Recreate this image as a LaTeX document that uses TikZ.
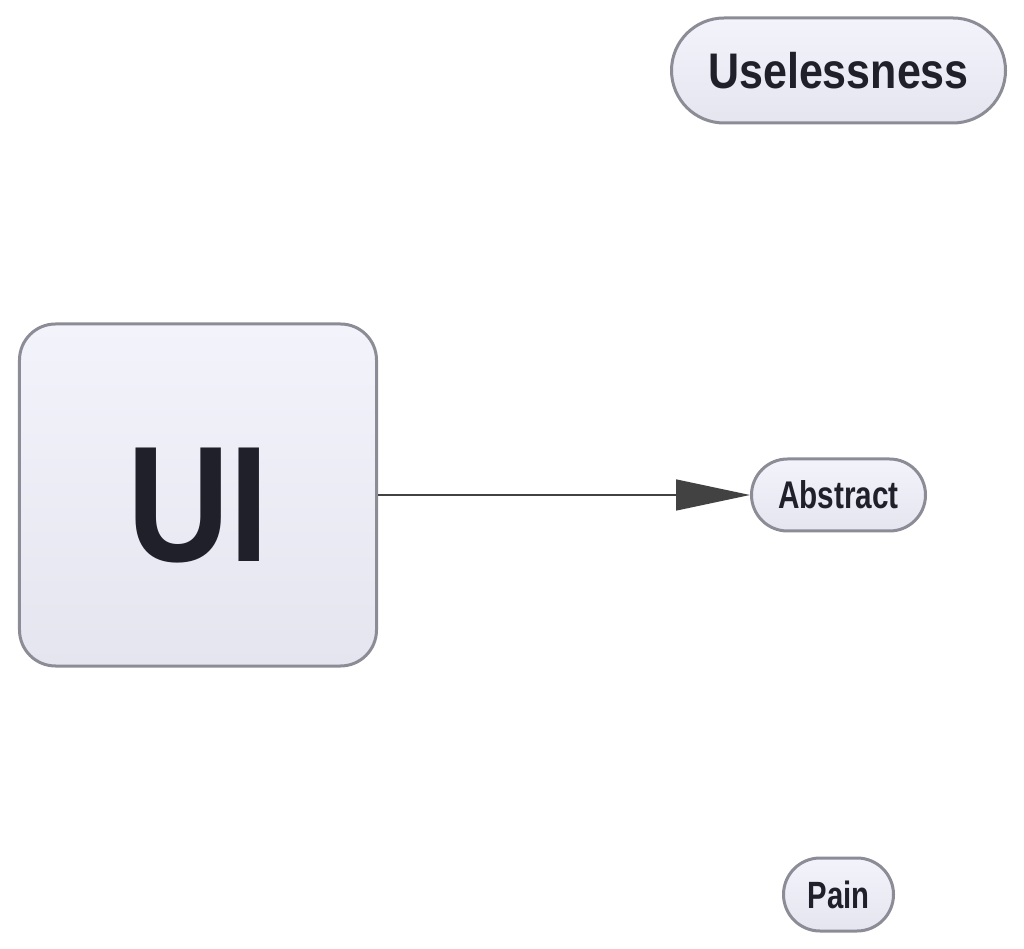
\documentclass[tikz,border=0pt]{standalone}
\usepackage{fontspec}
\newfontfamily\wideface[FakeStretch=0.86]{Liberation Sans}
\newfontfamily\narrowface[FakeStretch=0.77]{Liberation Sans}
\usetikzlibrary{shapes.misc, arrows.meta, positioning}
\definecolor{nodetop}{RGB}{243,243,252}
\definecolor{nodemid}{RGB}{220,220,232}
\definecolor{nodebottom}{RGB}{229,229,239}
\definecolor{edgegray}{RGB}{140,140,150}
\definecolor{ink}{RGB}{32,32,42}
\definecolor{arrowgray}{RGB}{66,66,66}

\tikzset{
	concept/.style={draw=edgegray, line width=3pt, top color=nodetop, middle color=nodemid, bottom color=nodebottom, text=ink, inner sep=0pt},
	tile/.style={concept, rectangle, rounded corners=36pt},
	pill/.style={concept, rounded rectangle},
	link/.style={line width=1.5pt, draw=arrowgray, -{Triangle[length=74pt, width=31pt, fill=arrowgray]}}
}

\begin{document}
\begin{tikzpicture}
	\useasboundingbox (-198pt,-454pt) rectangle (826pt,495pt);

		% nodes %
		\node[tile, minimum width=357pt, minimum height=342pt, text height=134pt, text depth=0pt, font=\wideface\bfseries\fontsize{165}{165}\selectfont] (ui) {UI};
		\node[pill, right=372pt of ui, minimum width=174pt, minimum height=72pt, font=\narrowface\bfseries\fontsize{38.6}{40}\selectfont] (abstract) {Abstract};
		\node[pill, above=333pt of abstract, minimum width=334pt, minimum height=105pt, font=\wideface\bfseries\fontsize{50}{50}\selectfont] (uselessness) {Uselessness};
		\node[pill, below=324pt of abstract, minimum width=110pt, minimum height=73pt, font=\narrowface\bfseries\fontsize{38}{40}\selectfont] (pain) {Pain};

		% edges %
		\draw[link] (ui) -- (abstract);

\end{tikzpicture}
\end{document}
